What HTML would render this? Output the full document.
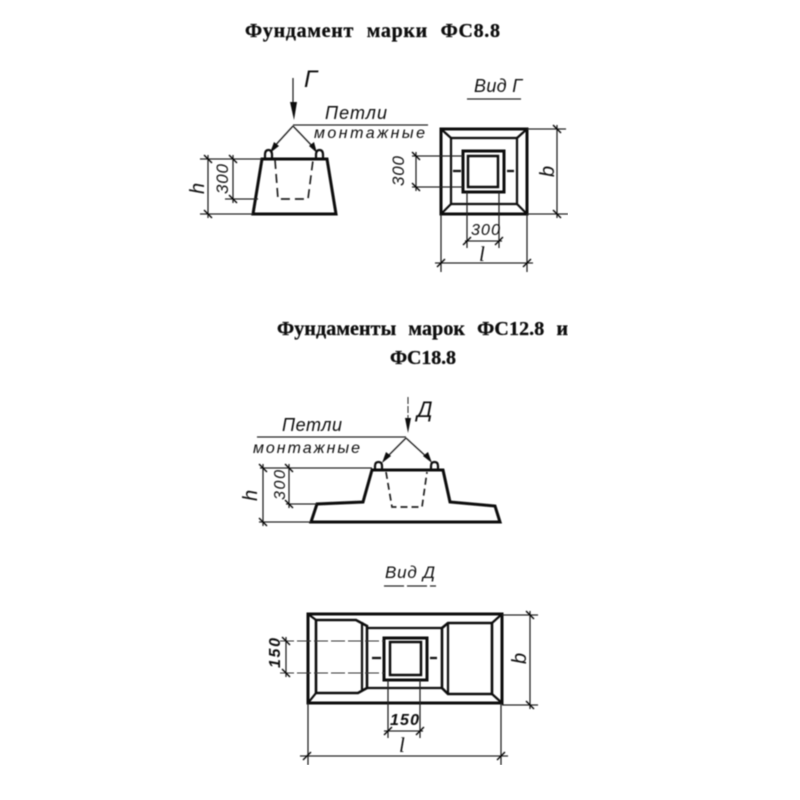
<!DOCTYPE html>
<html><head><meta charset="utf-8">
<style>
html,body{margin:0;padding:0;background:#fff}
svg{display:block}
text{font-family:"Liberation Sans","DejaVu Sans",sans-serif;font-style:italic;fill:#111}
.t{font-family:"Liberation Serif","DejaVu Serif",serif;font-style:normal;font-weight:bold;font-size:20px;stroke:#111;stroke-width:.3;word-spacing:7px}
.v{font-family:"Liberation Serif",serif;font-size:21px}
.b{stroke:#111;stroke-width:3;fill:none;stroke-linejoin:miter}
.m{stroke:#111;stroke-width:2.200;fill:none}
.f{stroke:#222;stroke-width:1.300;fill:none}
.d{stroke:#222;stroke-width:1.700;fill:none;stroke-dasharray:9 5}
.l{stroke:#333;stroke-width:1.100;fill:none;stroke-dasharray:14 3}
.tk{stroke:#111;stroke-width:1.500;fill:none}
</style></head><body>
<svg width="800" height="800" viewBox="0 0 800 800" xmlns="http://www.w3.org/2000/svg">
<defs><filter id="s" x="0" y="0" width="100%" height="100%"><feGaussianBlur stdDeviation="0.4"/></filter></defs>
<rect width="800" height="800" fill="#fff"/>
<g filter="url(#s)">

<text class="t" x="245" y="37" textLength="255" lengthAdjust="spacing">Фундамент марки ФС8.8</text>
<text class="t" x="277" y="335" textLength="291" lengthAdjust="spacing">Фундаменты марок ФС12.8 и</text>
<text class="t" x="390" y="364" textLength="66" lengthAdjust="spacing" style="word-spacing:0">ФС18.8</text>

<!-- Top left -->
<path class="f" d="M293 78V108"/>
<path d="M290 102L297 102L294 120Z" fill="#111"/>
<text x="304" y="87" font-size="24">Г</text>
<text x="325" y="119" font-size="18" textLength="62" lengthAdjust="spacing">Петли</text>
<path class="f" d="M293 125H428M293 126L272 149M293 126L315 149"/>
<path d="M270 153L279 146L274 142Z M317 153L309 146L314 142Z" fill="#111"/>
<text x="314" y="138" font-size="16" textLength="111" lengthAdjust="spacing">монтажные</text>
<path class="m" d="M265 158V155Q265 150 268.500 150Q272 150 272 155V158M316 158V155Q316 150 319.500 150Q323 150 323 155V158"/>
<path class="b" d="M262 159H327L336 214H253Z"/>
<path class="d" d="M275 160L278 199H308L313 160"/>
<path class="f" d="M200 159H262M200 214H253M208 155V218M233 155V203M225 199H258"/>
<path class="tk" d="M204 155L212 163M204 210L212 218M229 155L237 163M229 195L237 203"/>
<text transform="translate(204 194) rotate(-90)" font-size="20">h</text>
<text transform="translate(228 194) rotate(-90)" font-size="17" textLength="30" lengthAdjust="spacing">300</text>

<!-- Top right -->
<text x="474" y="92" font-size="18" textLength="48" lengthAdjust="spacing">Вид Г</text>
<path class="f" d="M467 99H521"/>
<path class="b" d="M441 129H527V214H441Z"/>
<path class="m" d="M451 138H517V204H451Z"/>
<path class="m" d="M441 129L451 138M527 129L517 138M441 214L451 204M527 214L517 204"/>
<path class="b" d="M463 151H504V192H463Z"/>
<path class="b" d="M468 156H498V187H468Z" style="stroke-width:2.500"/>
<path class="m" d="M453 171H461M507 171H514"/>
<path class="f" d="M412 156H463M412 187H463M416 152V191M527 129H566M527 214H568M557 125V218"/>
<path class="tk" d="M412 152L420 160M412 183L420 191M553 125L561 133M553 210L561 218"/>
<text transform="translate(404 186) rotate(-90)" font-size="17" textLength="30" lengthAdjust="spacing">300</text>
<text transform="translate(554 177) rotate(-90)" font-size="20">b</text>
<path class="f" d="M467 192V248M499 192V248M465 241H502M441 214V272M527 214V272M435 263H533"/>
<path class="tk" d="M463 245L471 237M495 245L503 237M437 267L445 259M523 267L531 259"/>
<text x="471" y="235" font-size="16" textLength="29" lengthAdjust="spacing">300</text>
<text class="v" x="479" y="261">l</text>

<!-- Middle -->
<path class="l" d="M408 397V424" style="stroke-dasharray:7 2"/>
<path d="M405 418L411 418L408 433Z" fill="#111"/>
<text x="417" y="417" font-size="22">Д</text>
<text x="282" y="431" font-size="18" textLength="60" lengthAdjust="spacing">Петли</text>
<path class="f" d="M257 437H406M406 438L384 460M406 438L430 460"/>
<path d="M382 463L391 456L386 452Z M432 463L423 456L428 452Z" fill="#111"/>
<text x="253" y="453" font-size="16" textLength="107" lengthAdjust="spacing">монтажные</text>
<path class="m" d="M375 469V466Q375 462 378.500 462Q382 462 382 466V469M431 469V466Q431 462 434.500 462Q438 462 438 466V469"/>
<path class="b" d="M372 470H443L450 502L495 506L500 522H311L317 504L363 502Z"/>
<path class="d" d="M386 472L392 507H422L427 472" style="stroke-dasharray:7 4"/>
<path class="f" d="M260 468H372M259 522H311M263 464V526M289 464V508M286 504H317"/>
<path class="tk" d="M259 464L267 472M259 518L267 526M285 464L293 472M285 500L293 508"/>
<text transform="translate(257 501) rotate(-90)" font-size="20">h</text>
<text transform="translate(285 500) rotate(-90)" font-size="16" textLength="30" lengthAdjust="spacing">300</text>

<!-- Bottom -->
<text x="385" y="578" font-size="17" textLength="50" lengthAdjust="spacing">Вид Д</text>
<path class="f" d="M384 586H436" style="stroke-dasharray:20 3"/>
<path class="b" d="M308 614H502V703H308Z"/>
<path class="m" d="M316 620H356L367 626V688L358 693H316ZM448 623H492V694H448L442 688V628Z" style="stroke-width:2.600"/>
<path class="m" d="M367 628H442M367 688H442M308 614L316 620M502 614L492 623M308 703L316 693M502 703L492 694M362 622V691M448 623V694"/>
<path class="b" d="M384 638H427V680H384Z"/>
<path class="m" d="M390 642H421V675H390Z" style="stroke-width:2.500"/>
<path class="m" d="M372 658H381M430 658H437"/>
<path class="l" d="M280 641H384M280 673H384"/>
<path class="f" d="M286 637V677M502 615H538M502 705H538M530 611V709"/>
<path class="tk" d="M282 637L290 645M282 669L290 677M526 611L534 619M526 701L534 709"/>
<text transform="translate(280 668) rotate(-90)" font-size="16" textLength="30" lengthAdjust="spacing" font-weight="bold">150</text>
<text transform="translate(526 664) rotate(-90)" font-size="20">b</text>
<path class="f" d="M388 680V738M420 680V738M384 731H423M308 703V765M501 703V765M300 756H508"/>
<path class="tk" d="M384 735L392 727M416 735L424 727M303 760L311 752M497 760L505 752"/>
<text x="390" y="725" font-size="16" textLength="29" lengthAdjust="spacing" font-weight="bold">150</text>
<text class="v" x="399" y="752">l</text>
</g>
</svg>
</body></html>
